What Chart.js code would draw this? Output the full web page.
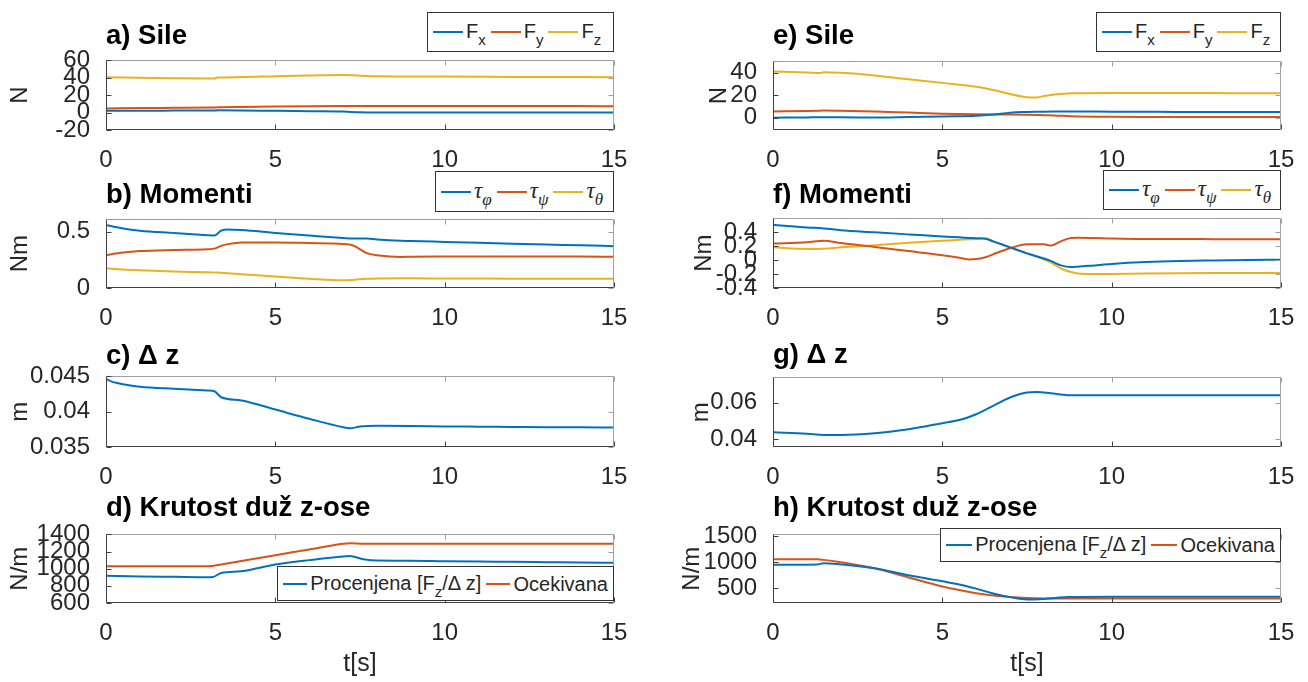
<!DOCTYPE html>
<html>
<head>
<meta charset="utf-8">
<script src="https://cdn.jsdelivr.net/npm/chart.js"></script>
<style>
  body { margin: 0; width: 1308px; height: 682px; position: relative; overflow: hidden; background: #fff;
         font-family: "Liberation Sans", Arial, sans-serif; }
  canvas { position: absolute; }
  .ttl { position: absolute; font-weight: bold; font-size: 27.5px; line-height: 27px; color: #000; white-space: nowrap; }
  .leg { position: absolute; box-sizing: border-box; border: 1px solid #333; background: #fff;
         display: flex; align-items: center; padding-left: 5px; z-index: 2; }
  .leg .ln { display: inline-block; width: 30px; height: 2px; margin-right: 3px; }
  .leg .tx { font-size: 20px; line-height: 20px; margin-right: 5px; color: #262626; white-space: nowrap; }
  .leg sub { font-size: 15px; vertical-align: baseline; position: relative; top: 7px; }
  .gr { font-family: "Liberation Serif", serif; font-style: italic; font-size: 23px; }
  .leg sub.gr { font-size: 17px; }
</style>
</head>
<body>
<script>
// x osa (zajednicka)
const xTicks = [0, 5, 10, 15];

// a) Sile
const tA  = [0, 1, 2, 3, 3.2, 3.3, 4, 5, 6, 7, 7.5, 8, 9, 10, 11, 12, 13, 14, 15];
const fxA = [2.2, 2.2, 2.3, 2.4, 2.4, 2.6, 2.5, 2.0, 1.6, 1.2, 0.4, 0.2, 0.2, 0.2, 0.2, 0.2, 0.2, 0.2, 0.2];
const fyA = [4.8, 5.2, 5.5, 5.8, 5.9, 6.1, 6.5, 7.0, 7.4, 7.6, 7.5, 7.5, 7.5, 7.5, 7.5, 7.5, 7.5, 7.5, 7.4];
const fzA = [40.5, 40.0, 39.5, 39.2, 39.2, 40.3, 40.8, 41.8, 42.6, 43.3, 42.4, 41.8, 41.6, 41.4, 41.2, 41.0, 40.9, 40.8, 40.7];
const yTicksA = [-20, 0, 20, 40, 60];

// b) Momenti
const tB     = [0, 0.5, 1, 2, 3, 3.2, 3.4, 3.6, 4, 5, 6, 7, 7.3, 7.7, 8, 8.7, 9, 10, 11, 12, 13, 14, 15];
const phiB   = [0.56, 0.53, 0.51, 0.49, 0.47, 0.467, 0.51, 0.52, 0.515, 0.49, 0.467, 0.445, 0.44, 0.44, 0.432, 0.42, 0.418, 0.41, 0.402, 0.394, 0.386, 0.38, 0.372];
const psiB   = [0.292, 0.315, 0.328, 0.338, 0.345, 0.35, 0.375, 0.39, 0.405, 0.405, 0.40, 0.392, 0.378, 0.31, 0.292, 0.276, 0.278, 0.28, 0.281, 0.281, 0.281, 0.28, 0.277];
const thetaB = [0.175, 0.165, 0.158, 0.147, 0.14, 0.138, 0.136, 0.132, 0.122, 0.102, 0.082, 0.068, 0.072, 0.082, 0.085, 0.086, 0.086, 0.085, 0.084, 0.083, 0.083, 0.083, 0.083];
const yTicksB = [0, 0.5];

// c) Delta z
const tC  = [0, 0.15, 0.3, 0.5, 1, 2, 3, 3.2, 3.4, 4, 5, 6, 7, 7.2, 7.5, 8, 9, 10, 11, 12, 13, 14, 15];
const dzC = [0.0446, 0.0443, 0.0441, 0.0439, 0.04355, 0.04325, 0.0430, 0.0429, 0.04205, 0.0416, 0.0403, 0.0390, 0.0378, 0.03765, 0.0379, 0.0380, 0.03798, 0.03792, 0.03788, 0.03784, 0.0378, 0.03778, 0.03775];
const yTicksC = [0.035, 0.04, 0.045];

// d) Krutost
const tD    = [0, 1, 2, 3, 3.15, 3.4, 4, 5, 6, 7, 7.2, 7.6, 8, 9, 10, 11, 12, 13, 14, 15];
const kEstD = [917, 910, 905, 900, 902, 950, 970, 1048, 1100, 1143, 1147, 1111, 1095, 1093, 1087, 1083, 1080, 1076, 1072, 1069];
const kExpD = [1030, 1030, 1030, 1030, 1032, 1050, 1090, 1157, 1225, 1292, 1298, 1292, 1291, 1291, 1291, 1291, 1291, 1291, 1291, 1291];
const yTicksD = [600, 800, 1000, 1200, 1400];

// e) Sile
const tE  = [0, 1, 1.4, 1.5, 2, 3, 4, 5, 6, 6.5, 7, 7.5, 7.8, 8, 8.3, 8.8, 10, 11, 12, 13, 14, 15];
const fxE = [0, 0.2, 0.3, 0.3, 0.3, 0.1, 0.6, 1.1, 1.6, 2.7, 4.4, 5.0, 5.2, 5.3, 5.4, 5.5, 5.3, 5.2, 5.1, 5.1, 5.0, 5.0];
const fyE = [5.5, 5.9, 6.2, 6.3, 6.1, 5.5, 4.5, 3.5, 2.9, 2.8, 2.8, 2.6, 2.4, 2.2, 2.0, 1.3, 0.7, 0.6, 0.6, 0.6, 0.6, 0.6];
const fzE = [41, 40.2, 39.7, 40.4, 39.8, 37.5, 34.2, 30.9, 27.4, 24.6, 21.1, 18.2, 18.0, 19.2, 20.5, 21.7, 21.9, 21.9, 21.8, 21.8, 21.7, 21.7];
const yTicksE = [0, 20, 40];

// f) Momenti
const tF     = [0, 1, 1.5, 2, 3, 4, 5, 5.5, 5.8, 6, 6.3, 6.5, 7, 7.5, 8, 8.2, 8.5, 8.8, 9, 9.5, 10, 11, 12, 13, 14, 15];
const phiF   = [0.509, 0.47, 0.456, 0.43, 0.40, 0.37, 0.34, 0.328, 0.32, 0.315, 0.305, 0.27, 0.184, 0.097, 0.024, -0.01, -0.075, -0.1, -0.095, -0.075, -0.055, -0.028, -0.012, -0.004, 0.002, 0.005];
const psiF   = [0.24, 0.257, 0.279, 0.245, 0.19, 0.13, 0.07, 0.035, 0.01, 0.015, 0.045, 0.084, 0.171, 0.227, 0.228, 0.21, 0.27, 0.32, 0.322, 0.318, 0.31, 0.305, 0.303, 0.302, 0.301, 0.30];
const thetaF = [0.184, 0.162, 0.165, 0.184, 0.214, 0.249, 0.279, 0.292, 0.30, 0.305, 0.314, 0.27, 0.184, 0.097, 0.01, -0.03, -0.12, -0.17, -0.19, -0.2, -0.198, -0.192, -0.188, -0.186, -0.185, -0.184];
const yTicksF = [-0.4, -0.2, 0, 0.2, 0.4];

// g) Delta z
const tG  = [0, 1, 1.5, 2, 3, 4, 5, 5.5, 6, 6.5, 7, 7.5, 7.8, 8.2, 8.7, 9, 10, 11, 12, 13, 14, 15];
const dzG = [0.0438, 0.0431, 0.0424, 0.0424, 0.0433, 0.0455, 0.0488, 0.0505, 0.0537, 0.0583, 0.0628, 0.0655, 0.0658, 0.0651, 0.0641, 0.0640, 0.0640, 0.0640, 0.0640, 0.0640, 0.0640, 0.0640];
const yTicksG = [0.04, 0.06];

// h) Krutost
const tH    = [0, 1, 1.3, 1.5, 2, 3, 4, 5, 5.5, 6, 6.5, 7, 7.5, 8, 8.7, 9, 10, 11, 12, 13, 14, 15];
const kEstH = [952, 952, 955, 982, 958, 882, 746, 630, 570, 489, 394, 324, 278, 289, 324, 328, 330, 330, 330, 330, 330, 330];
const kExpH = [1058, 1058, 1058, 1046, 1000, 882, 706, 530, 460, 401, 355, 324, 306, 298, 296, 296, 296, 296, 296, 296, 296, 296];
const yTicksH = [500, 1000, 1500];

const BLUE = '#0072BD', RED = '#D95319', YEL = '#EDB120';

const panels = [
  { col: 0,   box: [106, 54, 614, 130],  t: tA, s: [[fxA, BLUE], [fyA, RED], [fzA, YEL]], yMin: -20, yMax: 60, yTicks: yTicksA, yTitle: 'N', yTitleX: 20,
    title: 'a) Sile', titleY: 34, leg: [427, 12, 614, 52], items: [[BLUE, 'F<sub>x</sub>'], [RED, 'F<sub>y</sub>'], [YEL, 'F<sub>z</sub>']] },
  { col: 0,   box: [106, 213, 614, 288], t: tB, s: [[phiB, BLUE], [psiB, RED], [thetaB, YEL]], yMin: 0, yMax: 0.61, yTicks: yTicksB, yTitle: 'Nm', yTitleX: 20,
    title: 'b) Momenti', titleY: 193, leg: [435, 171, 614, 212], items: [[BLUE, '<span class="gr">τ</span><sub class="gr">φ</sub>'], [RED, '<span class="gr">τ</span><sub class="gr">ψ</sub>'], [YEL, '<span class="gr">τ</span><sub class="gr">θ</sub>']] },
  { col: 0,   box: [106, 370, 614, 447], t: tC, s: [[dzC, BLUE]], yMin: 0.035, yMax: 0.045, yTicks: yTicksC, yTitle: 'm', yTitleX: 20,
    title: 'c) Δ z', titleY: 354 },
  { col: 0,   box: [106, 528, 614, 603], t: tD, s: [[kEstD, BLUE], [kExpD, RED]], yMin: 600, yMax: 1400, yTicks: yTicksD, yTitle: 'N/m', yTitleX: 20, xTitle: 't[s]',
    title: 'd) Krutost duž z-ose', titleY: 506, leg: [277, 566, 614, 601], items: [[BLUE, 'Procenjena [F<sub>z</sub>/Δ z]'], [RED, 'Ocekivana']] },
  { col: 650, box: [773, 55, 1281, 130], t: tE, s: [[fxE, BLUE], [fyE, RED], [fzE, YEL]], yMin: -11, yMax: 50, yTicks: yTicksE, yTitle: 'N', yTitleX: 69,
    title: 'e) Sile', titleY: 34, leg: [1096, 12, 1281, 52], items: [[BLUE, 'F<sub>x</sub>'], [RED, 'F<sub>y</sub>'], [YEL, 'F<sub>z</sub>']] },
  { col: 650, box: [773, 212, 1281, 288], t: tF, s: [[phiF, BLUE], [psiF, RED], [thetaF, YEL]], yMin: -0.4, yMax: 0.6, yTicks: yTicksF, yTitle: 'Nm', yTitleX: 54,
    title: 'f) Momenti', titleY: 193, leg: [1103, 170, 1281, 210], items: [[BLUE, '<span class="gr">τ</span><sub class="gr">φ</sub>'], [RED, '<span class="gr">τ</span><sub class="gr">ψ</sub>'], [YEL, '<span class="gr">τ</span><sub class="gr">θ</sub>']] },
  { col: 650, box: [773, 371, 1281, 447], t: tG, s: [[dzG, BLUE]], yMin: 0.0358, yMax: 0.0738, yTicks: yTicksG, yTitle: 'm', yTitleX: 51,
    title: 'g) Δ z', titleY: 353 },
  { col: 650, box: [773, 528, 1281, 603], t: tH, s: [[kEstH, BLUE], [kExpH, RED]], yMin: 210, yMax: 1540, yTicks: yTicksH, yTitle: 'N/m', yTitleX: 42, xTitle: 't[s]',
    title: 'h) Krutost duž z-ose', titleY: 506, leg: [940, 528, 1281, 562], items: [[BLUE, 'Procenjena [F<sub>z</sub>/Δ z]'], [RED, 'Ocekivana']] }
];

function fmt(v) { return String(+v.toFixed(6)); }

// MATLAB-like box with inward ticks
const boxPlugin = {
  id: 'matlabBox',
  afterDatasetsDraw(chart) {
    const { ctx, chartArea: a, scales: { x, y } } = chart;
    const L = Math.round(a.left) + 0.5, R = Math.round(a.right) - 0.5;
    const T = Math.round(a.top) + 0.5, B = Math.round(a.bottom) - 0.5;
    ctx.save();
    ctx.lineWidth = 1;
    ctx.strokeStyle = '#a0a0a0';
    ctx.beginPath();
    ctx.moveTo(L, T); ctx.lineTo(R, T); ctx.lineTo(R, B);
    x.ticks.forEach(tk => { const px = Math.round(x.getPixelForValue(tk.value)) + 0.5; ctx.moveTo(px, T); ctx.lineTo(px, T + 5); });
    y.ticks.forEach(tk => { const py = Math.round(y.getPixelForValue(tk.value)) + 0.5; ctx.moveTo(R, py); ctx.lineTo(R - 5, py); });
    ctx.stroke();
    ctx.strokeStyle = '#404040';
    ctx.beginPath();
    ctx.moveTo(L, T); ctx.lineTo(L, B); ctx.lineTo(R, B);
    x.ticks.forEach(tk => { const px = Math.round(x.getPixelForValue(tk.value)) + 0.5; ctx.moveTo(px, B); ctx.lineTo(px, B - 5); });
    y.ticks.forEach(tk => { const py = Math.round(y.getPixelForValue(tk.value)) + 0.5; ctx.moveTo(L, py); ctx.lineTo(L + 5, py); });
    ctx.stroke();
    ctx.restore();
  }
};

Chart.defaults.font.family = '"Liberation Sans", Arial, sans-serif';
Chart.defaults.color = '#262626';

panels.forEach(p => {
  const [x0, y0, x1, y1] = p.box;
  const padTop = 16, padRight = 26;
  const top = y0 - padTop;
  const height = p.xTitle ? 682 - top : (y1 - top) + 40;
  const width = x1 + padRight - p.col;
  const xH = height - (y1 - top);
  const yW = x0 - p.col;

  const cv = document.createElement('canvas');
  cv.width = width; cv.height = height;
  cv.style.left = p.col + 'px'; cv.style.top = top + 'px';
  document.body.appendChild(cv);

  new Chart(cv, {
    type: 'line',
    data: {
      datasets: p.s.map(([vals, color]) => ({
        data: p.t.map((tx, i) => ({ x: tx, y: vals[i] })),
        borderColor: color, borderWidth: 2, pointRadius: 0,
        cubicInterpolationMode: 'monotone', fill: false
      }))
    },
    options: {
      responsive: false, animation: false, events: [],
      layout: { padding: { top: padTop, right: padRight, left: 0, bottom: 0 } },
      plugins: { legend: { display: false }, tooltip: { enabled: false } },
      scales: {
        x: {
          type: 'linear', min: 0, max: 15,
          grid: { display: false }, border: { display: false },
          afterBuildTicks: s => { s.ticks = xTicks.map(v => ({ value: v })); },
          afterFit: s => { s.height = xH; },
          ticks: { autoSkip: false, maxRotation: 0, padding: 8, font: { size: 24 }, callback: v => fmt(v) },
          title: p.xTitle
            ? { display: true, text: p.xTitle, font: { size: 25 }, padding: { top: 0, bottom: 3 } }
            : { display: false }
        },
        y: {
          type: 'linear', min: p.yMin, max: p.yMax,
          grid: { display: false }, border: { display: false },
          afterBuildTicks: s => { s.ticks = p.yTicks.map(v => ({ value: v })); },
          afterFit: s => { s.width = yW; },
          ticks: { autoSkip: false, padding: 8, font: { size: 24 }, callback: v => fmt(v) },
          title: { display: true, text: p.yTitle, font: { size: 24 }, padding: { top: p.yTitleX - 14.4, bottom: 0 } }
        }
      }
    },
    plugins: [boxPlugin]
  });

  const tt = document.createElement('div');
  tt.className = 'ttl';
  tt.textContent = p.title;
  tt.style.left = x0 + 'px';
  tt.style.top = (p.titleY - 13.5) + 'px';
  document.body.appendChild(tt);

  if (p.leg) {
    const [lx0, ly0, lx1, ly1] = p.leg;
    const lg = document.createElement('div');
    lg.className = 'leg';
    lg.style.left = lx0 + 'px'; lg.style.top = ly0 + 'px';
    lg.style.width = (lx1 - lx0) + 'px'; lg.style.height = (ly1 - ly0) + 'px';
    lg.innerHTML = p.items.map(([c, h]) =>
      '<span class="ln" style="background:' + c + '"></span><span class="tx">' + h + '</span>').join('');
    document.body.appendChild(lg);
  }
});
</script>
</body>
</html>
